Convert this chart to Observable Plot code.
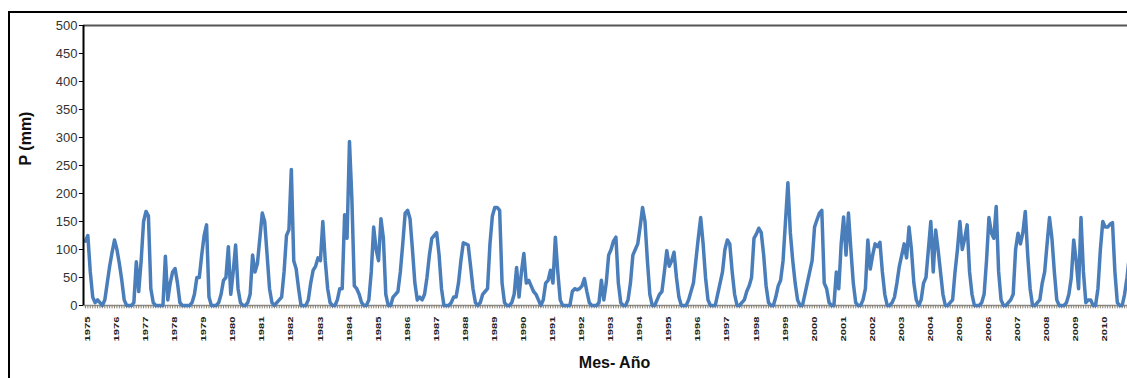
<!DOCTYPE html>
<html>
<head>
<meta charset="utf-8">
<script src="https://cdn.jsdelivr.net/npm/d3@7"></script>
<script src="https://cdn.jsdelivr.net/npm/@observablehq/plot@0.6"></script>
<style>
  html, body { margin: 0; padding: 0; background: #fff; overflow: hidden; }
  #wrap { position: relative; width: 1127px; height: 378px; overflow: hidden; }
  #border { position: absolute; left: 8px; top: 11px; width: 1300px; height: 500px;
            border-top: 2px solid #000; border-left: 2px solid #000; pointer-events: none; }
  #chart { position: absolute; left: 0; top: 0; }
</style>
</head>
<body>
<div id="wrap"><div id="chart"></div><div id="border"></div></div>
<script>
// Year tick labels (one per January)
const yearLabels = d3.range(1975, 2011).map(String);
const yTicks = [0, 50, 100, 150, 200, 250, 300, 350, 400, 450, 500];

// Monthly precipitation P (mm), Jan..Dec per year
const monthlyP = [
  /*1975*/ 115,125,60,15,5,10,5,0,10,40,70,95,
  /*1976*/ 117,100,75,45,10,0,0,0,5,78,25,80,
  /*1977*/ 150,168,160,30,5,0,0,0,0,88,10,40,
  /*1978*/ 60,66,40,5,0,0,0,0,5,20,50,50,
  /*1979*/ 90,125,144,15,0,0,0,5,20,45,50,105,
  /*1980*/ 20,60,108,30,5,0,0,5,20,90,60,75,
  /*1981*/ 120,165,150,90,30,5,0,5,10,15,60,125,
  /*1982*/ 135,243,80,65,30,0,0,0,10,40,63,70,
  /*1983*/ 85,80,150,80,30,5,0,0,10,30,30,162,
  /*1984*/ 120,293,190,35,30,20,5,0,0,10,60,140,
  /*1985*/ 100,80,155,120,20,0,0,15,20,25,60,110,
  /*1986*/ 165,170,155,100,40,10,15,10,20,50,90,120,
  /*1987*/ 125,130,90,30,0,0,0,5,15,15,40,80,
  /*1988*/ 112,110,108,70,30,5,0,5,20,25,30,110,
  /*1989*/ 160,175,175,170,40,5,0,0,5,20,68,15,
  /*1990*/ 60,93,40,45,35,25,20,10,0,10,40,45,
  /*1991*/ 63,40,122,60,10,0,0,0,0,25,30,28,
  /*1992*/ 30,35,48,25,5,0,0,0,5,45,10,40,
  /*1993*/ 90,100,115,122,40,5,0,0,10,40,90,100,
  /*1994*/ 110,140,175,150,80,20,0,0,10,20,25,60,
  /*1995*/ 98,70,80,95,50,15,0,0,0,10,25,40,
  /*1996*/ 80,120,157,110,50,10,0,0,0,20,40,60,
  /*1997*/ 100,117,110,60,20,0,0,5,10,25,35,50,
  /*1998*/ 120,128,138,130,90,35,5,0,0,15,35,45,
  /*1999*/ 80,150,219,130,80,40,10,0,0,20,40,60,
  /*2000*/ 80,140,153,165,170,40,30,5,0,0,60,30,
  /*2001*/ 110,158,90,165,100,40,5,0,0,10,30,117,
  /*2002*/ 65,90,110,105,113,60,20,0,0,5,15,40,
  /*2003*/ 70,90,110,85,140,100,40,10,0,10,40,50,
  /*2004*/ 100,150,60,135,100,60,20,0,0,5,10,60,
  /*2005*/ 100,150,100,120,144,60,20,0,0,0,5,20,
  /*2006*/ 80,157,130,120,177,60,10,0,0,5,10,20,
  /*2007*/ 100,129,110,130,168,90,30,0,0,5,10,40,
  /*2008*/ 60,110,157,120,60,10,0,0,0,5,20,50,
  /*2009*/ 117,80,30,157,60,5,10,10,0,0,30,100,
  /*2010*/ 150,140,140,145,148,60,5,0,0,20,50,90
];

const months = monthlyP.map((v, i) => ({i, v}));
const yearStarts = yearLabels.map((t, k) => ({i: k * 12, t}));
const X0 = -0.8;

const plot = Plot.plot({
  width: 1127, height: 378,
  marginLeft: 83, marginRight: 0, marginTop: 25, marginBottom: 73,
  style: {fontFamily: "'Liberation Sans', Arial, sans-serif", fontSize: "12px", color: "#333", background: "transparent"},
  x: {domain: [X0, 430.2], axis: null},
  y: {domain: [0, 500], axis: null},
  marks: [
    Plot.ruleY([500], {stroke: "#555", strokeWidth: 2}),
    Plot.ruleY([0], {stroke: "#8a8a8a", strokeWidth: 1.5}),
    Plot.ruleX(months, {x: "i", y1: 0, y2: -6, stroke: "#8a8070", strokeWidth: 1}),
    Plot.line(months, {x: "i", y: "v", stroke: "#4a7ebb", strokeWidth: 3.5, strokeLinejoin: "round"}),
    Plot.ruleX([X0], {y1: 0, y2: 500, stroke: "#000", strokeWidth: 2}),
    Plot.ruleY(yTicks, {y: d => d, x1: X0 - 1.7, x2: X0, stroke: "#000", strokeWidth: 1}),
    Plot.text(yTicks, {x: X0, y: d => d, text: d => String(d), textAnchor: "end", dx: -6, fontSize: 13, fill: "#333"}),
    Plot.text(yearStarts, {x: "i", y: 0, text: "t", rotate: -90, textAnchor: "end", lineAnchor: "middle",
      dy: 11, dx: 2, fontSize: 7, fontWeight: "bold", fill: "#222"}),
    Plot.text(["P (mm)"], {frameAnchor: "left", dx: -58, rotate: -90, fontSize: 16, fontWeight: "bold", fill: "#111"}),
    Plot.text(["Mes- Año"], {frameAnchor: "bottom", dx: 9, dy: 62, fontSize: 16, fontWeight: "bold", fill: "#111"})
  ]
});

// stretch the tiny rotated year labels along their length, as in the reference
plot.querySelectorAll("text").forEach(n => {
  if (/^\d{4}$/.test(n.textContent)) {
    const t = n.getAttribute("transform");
    if (t) n.setAttribute("transform", t + " scale(1.6,1.15)");
  }
});

document.getElementById("chart").appendChild(plot);
</script>
</body>
</html>
